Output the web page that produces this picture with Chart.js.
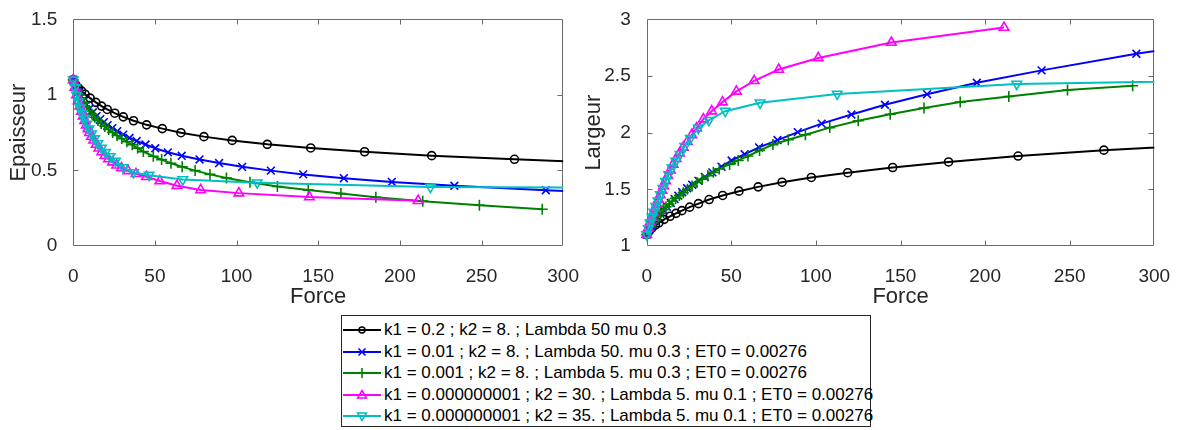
<!DOCTYPE html>
<html><head><meta charset="utf-8">
<script src="https://cdn.jsdelivr.net/npm/chart.js@4.4.1/dist/chart.umd.min.js"></script>
<style>
html,body{margin:0;padding:0;background:#fff;width:1183px;height:430px;overflow:hidden;font-family:"Liberation Sans",Arial,sans-serif;}
canvas{position:absolute;top:0;}
#c1{left:0;}
#c2{left:575px;}
#legend{position:absolute;left:341px;top:315px;width:530px;height:112px;border:1px solid #262626;background:#fff;box-sizing:border-box;}
.row{position:absolute;left:0;height:20px;display:flex;align-items:center;white-space:nowrap;font-size:17px;color:#000;}
.row svg{flex:none;margin-left:0;margin-right:1px;}
</style></head>
<body>
<canvas id="c1" width="590" height="310"></canvas>
<canvas id="c2" width="608" height="310"></canvas>
<div id="legend"></div>
<script>
// ---- data ----
const seriesNames = [
  "k1 = 0.2 ; k2 = 8. ; Lambda 50 mu 0.3",
  "k1 = 0.01 ; k2 = 8. ; Lambda 50. mu 0.3 ; ET0 = 0.00276",
  "k1 = 0.001 ; k2 = 8. ; Lambda 5. mu 0.3 ; ET0 = 0.00276",
  "k1 = 0.000000001 ; k2 = 30. ; Lambda 5. mu 0.1 ; ET0 = 0.00276",
  "k1 = 0.000000001 ; k2 = 35. ; Lambda 5. mu 0.1 ; ET0 = 0.00276"
];
const force1 = [0, 1.5, 3.2, 5.1, 7.2, 10.3, 13.8, 17.3, 20.8, 25.4, 30.6, 36.9, 44.9, 54.5, 65.9, 80.0, 97.3, 118.8, 145.4, 178.4, 219.5, 270.2, 331.8];
const epaisseur1 = [1.1, 1.065, 1.045, 1.025, 1.005, 0.979, 0.951, 0.926, 0.904, 0.879, 0.855, 0.829, 0.802, 0.777, 0.750, 0.724, 0.699, 0.673, 0.649, 0.624, 0.598, 0.574, 0.548];
const largeur1 = [1.1, 1.135, 1.16, 1.185, 1.205, 1.235, 1.262, 1.288, 1.312, 1.343, 1.374, 1.41, 1.446, 1.484, 1.522, 1.563, 1.605, 1.647, 1.693, 1.742, 1.794, 1.846, 1.895];

const force2 = [0, 1.5, 3.0, 4.6, 6.3, 8.1, 10.0, 12.0, 14.2, 16.5, 18.7, 21.0, 23.9, 26.9, 30.6, 34.4, 38.8, 44.2, 50.2, 57.9, 66.4, 77.3, 89.3, 103.4, 121.0, 140.8, 165.7, 195.1, 233.4, 289.4, 360.0];
const epaisseur2 = [1.1, 1.06, 1.02, 0.99, 0.96, 0.935, 0.91, 0.885, 0.86, 0.84, 0.82, 0.80, 0.78, 0.76, 0.737, 0.715, 0.695, 0.672, 0.647, 0.620, 0.597, 0.573, 0.549, 0.524, 0.499, 0.474, 0.449, 0.424, 0.399, 0.369, 0.34];
const largeur2 = [1.1, 1.14, 1.18, 1.22, 1.255, 1.285, 1.315, 1.345, 1.38, 1.415, 1.445, 1.475, 1.51, 1.54, 1.575, 1.61, 1.65, 1.70, 1.755, 1.81, 1.87, 1.935, 2.005, 2.08, 2.16, 2.247, 2.34, 2.441, 2.55, 2.697, 2.85];

const force3 = [0, 1.2, 2.5, 3.8, 5.2, 6.6, 8.1, 9.7, 11.4, 13.2, 15.1, 17.1, 19.3, 21.6, 24.1, 26.8, 29.7, 32.8, 36.1, 39.4, 42.9, 49.0, 54.1, 59.8, 66.7, 74.6, 83.7, 93.8, 108.2, 125.0, 143.9, 163.9, 185.3, 214.0, 248.7, 287.2];
const epaisseur3 = [1.1, 1.065, 1.03, 1.0, 0.972, 0.946, 0.921, 0.897, 0.874, 0.852, 0.831, 0.811, 0.791, 0.771, 0.751, 0.731, 0.711, 0.69, 0.67, 0.648, 0.625, 0.594, 0.572, 0.548, 0.524, 0.499, 0.474, 0.450, 0.422, 0.394, 0.370, 0.347, 0.323, 0.297, 0.270, 0.243];
const largeur3 = [1.1, 1.135, 1.17, 1.2, 1.23, 1.26, 1.29, 1.32, 1.345, 1.37, 1.395, 1.42, 1.445, 1.47, 1.50, 1.53, 1.56, 1.59, 1.62, 1.65, 1.68, 1.72, 1.755, 1.794, 1.843, 1.895, 1.938, 1.982, 2.045, 2.106, 2.163, 2.218, 2.27, 2.32, 2.377, 2.414];

const force4 = [0, 1, 2, 3, 4, 5, 6, 7, 8, 9, 10, 11.2, 12.5, 14.0, 15.6, 17.4, 19.4, 21.6, 24.0, 26.6, 29.5, 33.5, 38.4, 44.8, 53.0, 63.5, 78.0, 101.4, 144.6, 211.2];
const epaisseur4 = [1.1, 1.05, 1.0, 0.96, 0.925, 0.89, 0.86, 0.83, 0.80, 0.775, 0.75, 0.725, 0.70, 0.672, 0.647, 0.622, 0.598, 0.576, 0.555, 0.535, 0.516, 0.497, 0.478, 0.458, 0.430, 0.399, 0.371, 0.350, 0.324, 0.300];
const largeur4 = [1.1, 1.16, 1.21, 1.255, 1.295, 1.33, 1.37, 1.41, 1.45, 1.49, 1.53, 1.575, 1.62, 1.67, 1.72, 1.77, 1.82, 1.87, 1.92, 1.98, 2.04, 2.12, 2.19, 2.27, 2.365, 2.458, 2.558, 2.66, 2.796, 2.928];

const force5 = [0, 1, 2, 3.1, 4.2, 5.4, 6.7, 8.1, 9.6, 11.2, 13.0, 15.0, 17.2, 19.7, 22.5, 25.8, 30.5, 36.8, 46.4, 67.0, 112.6, 218.7, 460.0];
const epaisseur5 = [1.1, 1.05, 1.0, 0.955, 0.915, 0.878, 0.843, 0.808, 0.775, 0.743, 0.711, 0.679, 0.649, 0.62, 0.592, 0.563, 0.52, 0.487, 0.469, 0.44, 0.419, 0.39, 0.38];
const largeur5 = [1.1, 1.155, 1.205, 1.255, 1.30, 1.35, 1.40, 1.455, 1.51, 1.57, 1.63, 1.69, 1.75, 1.81, 1.88, 1.95, 2.04, 2.11, 2.19, 2.264, 2.342, 2.43, 2.49];

const xTicks = [0, 50, 100, 150, 200, 250, 300];
const yTicksEpaisseur = [0, 0.5, 1, 1.5];
const yTicksLargeur = [1, 1.5, 2, 2.5, 3];

// ---- styles ----
const colors = ['#000000', '#0000ff', '#008000', '#ff00ff', '#00bfbf'];
const markers = [
  {style: 'circle', radius: 4, rot: 0},
  {style: 'crossRot', radius: 5.5, rot: 0},
  {style: 'cross', radius: 5.5, rot: 0},
  {style: 'triangle', radius: 5.5, rot: 0},
  {style: 'triangle', radius: 5.5, rot: 180}
];
const forces = [force1, force2, force3, force4, force5];
const eps = [epaisseur1, epaisseur2, epaisseur3, epaisseur4, epaisseur5];
const lgs = [largeur1, largeur2, largeur3, largeur4, largeur5];

const textColor = '#262626';
const axisColor = '#6a6a6a';
const tickFont = {family: '"Liberation Sans", Arial, sans-serif', size: 19};
const titleFont = {family: '"Liberation Sans", Arial, sans-serif', size: 22};

function makeDatasets(ys) {
  return forces.map((f, i) => ({
    label: seriesNames[i],
    data: f.map((v, j) => ({x: v, y: ys[i][j]})),
    showLine: true,
    borderColor: colors[i],
    backgroundColor: 'transparent',
    borderWidth: 2,
    pointStyle: markers[i].style,
    pointRadius: markers[i].radius,
    pointRotation: markers[i].rot,
    pointBorderColor: colors[i],
    pointBackgroundColor: 'rgba(0,0,0,0)',
    pointBorderWidth: 1.6,
    tension: 0,
    order: 4 - i,
    clip: {left: 10, top: 10, right: 0, bottom: 10}
  }));
}

const boxPlugin = {
  id: 'mbox',
  beforeDatasetsDraw(chart) {
    const {ctx, chartArea: a, scales: {x, y}} = chart;
    ctx.save();
    ctx.strokeStyle = axisColor;
    ctx.lineWidth = 1;
    const L = Math.round(a.left) + 0.5, R = Math.round(a.right) - 0.5;
    const T = Math.round(a.top) + 0.5, B = Math.round(a.bottom) - 0.5;
    ctx.beginPath();
    ctx.rect(L, T, R - L, B - T);
    const tl = 5;
    x.ticks.forEach(t => {
      if (t.value <= x.min || t.value >= x.max) return;
      const p = Math.round(x.getPixelForValue(t.value)) + 0.5;
      ctx.moveTo(p, B); ctx.lineTo(p, B - tl);
      ctx.moveTo(p, T); ctx.lineTo(p, T + tl);
    });
    y.ticks.forEach(t => {
      if (t.value <= y.min || t.value >= y.max) return;
      const p = Math.round(y.getPixelForValue(t.value)) + 0.5;
      ctx.moveTo(L, p); ctx.lineTo(L + tl, p);
      ctx.moveTo(R, p); ctx.lineTo(R - tl, p);
    });
    ctx.stroke();
    ctx.restore();
  }
};

function makeChart(id, ys, yTicks, yTitle, yWidth, padRight, padTop) {
  return new Chart(document.getElementById(id), {
    type: 'scatter',
    data: {datasets: makeDatasets(ys)},
    options: {
      responsive: false,
      animation: false,
      events: [],
      layout: {padding: {left: 0, right: padRight, top: padTop, bottom: 0}},
      plugins: {legend: {display: false}, tooltip: {enabled: false}},
      scales: {
        x: {
          type: 'linear',
          min: xTicks[0], max: xTicks[xTicks.length - 1],
          afterBuildTicks: s => { s.ticks = xTicks.map(v => ({value: v})); },
          grid: {display: false},
          border: {display: false},
          ticks: {color: textColor, font: tickFont, padding: 11, maxRotation: 0, autoSkip: false,
                  callback: v => String(v)},
          title: {display: true, text: 'Force', color: textColor, font: titleFont, padding: {top: 0, bottom: 0}},
          afterFit: s => { s.height = 64; }
        },
        y: {
          type: 'linear',
          min: yTicks[0], max: yTicks[yTicks.length - 1],
          afterBuildTicks: s => { s.ticks = yTicks.map(v => ({value: v})); },
          grid: {display: false},
          border: {display: false},
          ticks: {color: textColor, font: tickFont, padding: 8, autoSkip: false,
                  callback: v => String(v)},
          title: {display: true, text: yTitle, color: textColor, font: titleFont, padding: {top: 6, bottom: 0}},
          afterFit: s => { s.width = yWidth; }
        }
      }
    },
    plugins: [boxPlugin]
  });
}

makeChart('c1', eps, yTicksEpaisseur, 'Epaisseur', 73.3, 26.7, 14.5);
makeChart('c2', lgs, yTicksLargeur, 'Largeur', 71.7, 28.7, 15.5);

// ---- legend (HTML text, small svg symbols) ----
function symbolSvg(i) {
  const c = colors[i];
  let m = '';
  const cx = 20, cy = 10;
  if (i === 0) m = `<circle cx="${cx}" cy="${cy}" r="3" fill="none" stroke="${c}" stroke-width="1.5"/>`;
  if (i === 1) m = `<path d="M${cx-3.5} ${cy-3.5}L${cx+3.5} ${cy+3.5}M${cx+3.5} ${cy-3.5}L${cx-3.5} ${cy+3.5}" stroke="${c}" stroke-width="1.6"/>`;
  if (i === 2) m = `<path d="M${cx-5} ${cy}L${cx+5} ${cy}M${cx} ${cy-5}L${cx} ${cy+5}" stroke="${c}" stroke-width="1.6"/>`;
  if (i === 3) m = `<path d="M${cx} ${cy-4.5}L${cx+4.5} ${cy+3}L${cx-4.5} ${cy+3}Z" fill="none" stroke="${c}" stroke-width="1.5"/>`;
  if (i === 4) m = `<path d="M${cx} ${cy+4.5}L${cx+4.5} ${cy-3}L${cx-4.5} ${cy-3}Z" fill="none" stroke="${c}" stroke-width="1.5"/>`;
  return `<svg width="41" height="20" viewBox="0 0 41 20"><line x1="1" y1="10" x2="39" y2="10" stroke="${c}" stroke-width="2"/>${m}</svg>`;
}
const legendEl = document.getElementById('legend');
const rowCenters = [15, 36.5, 58, 79.5, 101];
seriesNames.forEach((n, i) => {
  const r = document.createElement('div');
  r.className = 'row';
  r.style.top = (rowCenters[i] - 10 - 1) + 'px';
  r.innerHTML = symbolSvg(i) + '<span>' + n + '</span>';
  legendEl.appendChild(r);
});
</script>
</body></html>
